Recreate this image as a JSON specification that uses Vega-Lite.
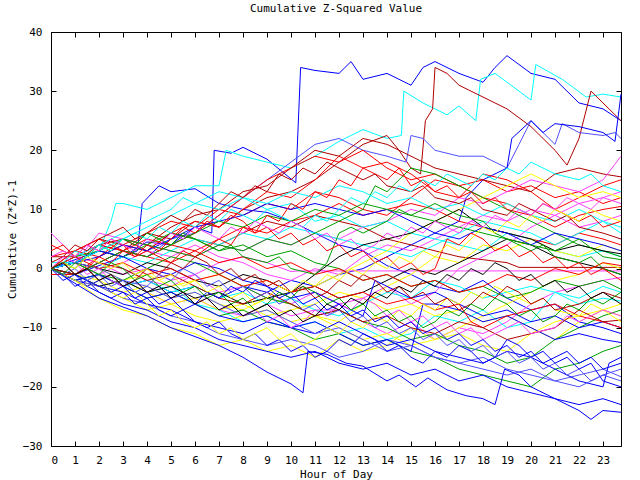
{
"$schema":"https://vega.github.io/schema/vega-lite/v6.json",
"width":570,"height":414,
"autosize":"none",
"padding":{"left":51,"top":32,"right":19,"bottom":34},
"background":"white",
"title":{"text":"Cumulative Z-Squared Value","font":"DejaVu Sans Mono","fontSize":11,"fontWeight":"normal","color":"black","anchor":"middle","frame":"group","offset":12},
"config":{"view":{"stroke":"black","strokeWidth":1},
"axis":{"domain":false,"grid":false,"tickColor":"black","tickSize":-5,"tickWidth":1,"labelFont":"DejaVu Sans Mono","labelFontSize":11,"labelColor":"black","titleFont":"DejaVu Sans Mono","titleFontSize":11,"titleFontWeight":"normal","titleColor":"black","labelPadding":8}},
"resolve":{"axis":{"x":"independent","y":"independent"}},
"layer":[
{"data":{"values":[
{"s":1,"h":0,"v":0},{"s":1,"h":1,"v":1.5},{"s":1,"h":2,"v":3},{"s":1,"h":3,"v":2},{"s":1,"h":4,"v":4.5},{"s":1,"h":5,"v":4},{"s":1,"h":6,"v":7},{"s":1,"h":6.7,"v":6},{"s":1,"h":6.8,"v":20},{"s":1,"h":7.5,"v":19.5},{"s":1,"h":8,"v":20.5},{"s":1,"h":9,"v":18.5},{"s":1,"h":10.2,"v":14.5},{"s":1,"h":10.4,"v":34},{"s":1,"h":11,"v":33.5},{"s":1,"h":12,"v":33},{"s":1,"h":12.5,"v":35},{"s":1,"h":13,"v":32},{"s":1,"h":14,"v":33},{"s":1,"h":15,"v":31},{"s":1,"h":15.5,"v":34},{"s":1,"h":16,"v":35},{"s":1,"h":17,"v":33},{"s":1,"h":18,"v":31.5},{"s":1,"h":18.5,"v":34},{"s":1,"h":19,"v":36},{"s":1,"h":20,"v":33},{"s":1,"h":21,"v":32},{"s":1,"h":22,"v":28},{"s":1,"h":23,"v":27},{"s":1,"h":23.75,"v":25},
{"s":2,"h":0,"v":0},{"s":2,"h":1,"v":-1},{"s":2,"h":2,"v":0.5},{"s":2,"h":3,"v":2},{"s":2,"h":3.6,"v":3},{"s":2,"h":3.8,"v":11},{"s":2,"h":4.5,"v":14},{"s":2,"h":5,"v":13},{"s":2,"h":6,"v":13.5},{"s":2,"h":7,"v":11},{"s":2,"h":8,"v":10},{"s":2,"h":9,"v":9.5},{"s":2,"h":10,"v":8},{"s":2,"h":11,"v":6},{"s":2,"h":12,"v":4},{"s":2,"h":13,"v":3},{"s":2,"h":14,"v":0.5},{"s":2,"h":15,"v":-1},{"s":2,"h":16,"v":-3},{"s":2,"h":17,"v":-4},{"s":2,"h":18,"v":-2},{"s":2,"h":19,"v":-5},{"s":2,"h":20,"v":-7},{"s":2,"h":21,"v":-6},{"s":2,"h":22,"v":-9},{"s":2,"h":23,"v":-10},{"s":2,"h":23.75,"v":-11},
{"s":3,"h":0,"v":1},{"s":3,"h":1,"v":1},{"s":3,"h":2,"v":3},{"s":3,"h":2.5,"v":8},{"s":3,"h":2.7,"v":11},{"s":3,"h":3,"v":11},{"s":3,"h":4,"v":10},{"s":3,"h":5,"v":12},{"s":3,"h":6,"v":14},{"s":3,"h":7,"v":14},{"s":3,"h":7.3,"v":20},{"s":3,"h":8,"v":19},{"s":3,"h":9,"v":18},{"s":3,"h":10,"v":17},{"s":3,"h":11,"v":19},{"s":3,"h":12,"v":21.5},{"s":3,"h":13,"v":23.5},{"s":3,"h":14,"v":22},{"s":3,"h":14.6,"v":22.5},{"s":3,"h":14.7,"v":30},{"s":3,"h":15.5,"v":28},{"s":3,"h":16.5,"v":26},{"s":3,"h":17,"v":27.5},{"s":3,"h":17.7,"v":25},{"s":3,"h":17.9,"v":32},{"s":3,"h":18.5,"v":33},{"s":3,"h":19.5,"v":30},{"s":3,"h":20,"v":28.5},{"s":3,"h":20.2,"v":34.5},{"s":3,"h":21.3,"v":32},{"s":3,"h":22.3,"v":29},{"s":3,"h":23,"v":29.5},{"s":3,"h":23.75,"v":29},
{"s":4,"h":0,"v":2},{"s":4,"h":1,"v":2},{"s":4,"h":2,"v":4},{"s":4,"h":3,"v":3},{"s":4,"h":4,"v":6},{"s":4,"h":5,"v":5},{"s":4,"h":6,"v":8},{"s":4,"h":7,"v":7},{"s":4,"h":8,"v":10},{"s":4,"h":9,"v":12},{"s":4,"h":10,"v":13},{"s":4,"h":11,"v":15},{"s":4,"h":12,"v":18},{"s":4,"h":13,"v":21},{"s":4,"h":14,"v":22.5},{"s":4,"h":14.5,"v":20},{"s":4,"h":15,"v":17},{"s":4,"h":15.4,"v":16},{"s":4,"h":15.6,"v":25},{"s":4,"h":15.9,"v":27},{"s":4,"h":16,"v":34},{"s":4,"h":16.5,"v":33},{"s":4,"h":17,"v":31},{"s":4,"h":18,"v":29},{"s":4,"h":19,"v":27},{"s":4,"h":20,"v":24},{"s":4,"h":21,"v":20},{"s":4,"h":21.5,"v":17.5},{"s":4,"h":22,"v":22},{"s":4,"h":22.5,"v":30},{"s":4,"h":23,"v":28},{"s":4,"h":23.75,"v":25},
{"s":5,"h":0,"v":0},{"s":5,"h":1,"v":-1},{"s":5,"h":2,"v":1},{"s":5,"h":3,"v":3},{"s":5,"h":4,"v":2},{"s":5,"h":5,"v":5},{"s":5,"h":6,"v":6},{"s":5,"h":7,"v":9},{"s":5,"h":8,"v":12},{"s":5,"h":9,"v":15},{"s":5,"h":10,"v":18},{"s":5,"h":11,"v":21},{"s":5,"h":12,"v":22},{"s":5,"h":13,"v":20},{"s":5,"h":14,"v":19},{"s":5,"h":14.8,"v":18},{"s":5,"h":15,"v":22.5},{"s":5,"h":15.5,"v":22},{"s":5,"h":16,"v":20},{"s":5,"h":17,"v":19},{"s":5,"h":18,"v":19},{"s":5,"h":19,"v":17},{"s":5,"h":19.5,"v":21},{"s":5,"h":20,"v":25},{"s":5,"h":20.5,"v":23},{"s":5,"h":21,"v":21},{"s":5,"h":21.3,"v":24.5},{"s":5,"h":22,"v":23},{"s":5,"h":23,"v":22.5},{"s":5,"h":23.5,"v":23},{"s":5,"h":23.75,"v":22},
{"s":6,"h":0,"v":0},{"s":6,"h":1,"v":-2},{"s":6,"h":2,"v":-1},{"s":6,"h":3,"v":-3},{"s":6,"h":4,"v":-2},{"s":6,"h":5,"v":-4},{"s":6,"h":6,"v":-3},{"s":6,"h":7,"v":-5},{"s":6,"h":8,"v":-3},{"s":6,"h":9,"v":-4},{"s":6,"h":10,"v":-2},{"s":6,"h":11,"v":-3},{"s":6,"h":12,"v":-1},{"s":6,"h":13,"v":0},{"s":6,"h":14,"v":2},{"s":6,"h":15,"v":4},{"s":6,"h":16,"v":6},{"s":6,"h":17,"v":8},{"s":6,"h":17.3,"v":12},{"s":6,"h":18,"v":15},{"s":6,"h":19,"v":17},{"s":6,"h":19.2,"v":22},{"s":6,"h":20,"v":25},{"s":6,"h":20.5,"v":23},{"s":6,"h":21,"v":24.5},{"s":6,"h":22,"v":24},{"s":6,"h":23,"v":23},{"s":6,"h":23.5,"v":21.5},{"s":6,"h":23.75,"v":29.5},
{"s":7,"h":0,"v":4},{"s":7,"h":1,"v":2},{"s":7,"h":2,"v":4},{"s":7,"h":3,"v":3},{"s":7,"h":4,"v":5},{"s":7,"h":5,"v":4},{"s":7,"h":6,"v":6},{"s":7,"h":7,"v":9},{"s":7,"h":8,"v":12},{"s":7,"h":9,"v":15},{"s":7,"h":10,"v":17},{"s":7,"h":11,"v":19},{"s":7,"h":12,"v":18},{"s":7,"h":13,"v":20},{"s":7,"h":14,"v":17},{"s":7,"h":15,"v":15},{"s":7,"h":16,"v":16},{"s":7,"h":17,"v":14},{"s":7,"h":18,"v":15},{"s":7,"h":19,"v":13},{"s":7,"h":20,"v":14},{"s":7,"h":21,"v":12},{"s":7,"h":22,"v":13},{"s":7,"h":23,"v":11},{"s":7,"h":23.75,"v":12},
{"s":8,"h":0,"v":2},{"s":8,"h":1,"v":3},{"s":8,"h":2,"v":2},{"s":8,"h":3,"v":5},{"s":8,"h":4,"v":3},{"s":8,"h":5,"v":6},{"s":8,"h":6,"v":8},{"s":8,"h":7,"v":7},{"s":8,"h":8,"v":10},{"s":8,"h":9,"v":13},{"s":8,"h":10,"v":12},{"s":8,"h":11,"v":15},{"s":8,"h":12,"v":19},{"s":8,"h":13,"v":17},{"s":8,"h":14,"v":18},{"s":8,"h":15,"v":16},{"s":8,"h":16,"v":13},{"s":8,"h":17,"v":12},{"s":8,"h":18,"v":16},{"s":8,"h":19,"v":15},{"s":8,"h":20,"v":13},{"s":8,"h":21,"v":10},{"s":8,"h":22,"v":12},{"s":8,"h":23,"v":14},{"s":8,"h":23.75,"v":15},
{"s":9,"h":0,"v":0},{"s":9,"h":1,"v":1},{"s":9,"h":2,"v":4},{"s":9,"h":3,"v":5},{"s":9,"h":4,"v":4},{"s":9,"h":5,"v":7},{"s":9,"h":6,"v":9},{"s":9,"h":7,"v":10},{"s":9,"h":8,"v":13},{"s":9,"h":9,"v":14},{"s":9,"h":10,"v":17},{"s":9,"h":11,"v":20},{"s":9,"h":12,"v":19},{"s":9,"h":13,"v":22},{"s":9,"h":14,"v":21},{"s":9,"h":15,"v":19},{"s":9,"h":16,"v":17},{"s":9,"h":17,"v":16},{"s":9,"h":18,"v":15},{"s":9,"h":19,"v":14},{"s":9,"h":20,"v":13},{"s":9,"h":21,"v":16},{"s":9,"h":22,"v":17},{"s":9,"h":23,"v":16},{"s":9,"h":23.75,"v":15.5},
{"s":10,"h":0,"v":-1},{"s":10,"h":1,"v":-1},{"s":10,"h":2,"v":2},{"s":10,"h":3,"v":4},{"s":10,"h":4,"v":6},{"s":10,"h":5,"v":8},{"s":10,"h":6,"v":7},{"s":10,"h":7,"v":10},{"s":10,"h":8,"v":9},{"s":10,"h":9,"v":11},{"s":10,"h":10,"v":10},{"s":10,"h":11,"v":13},{"s":10,"h":12,"v":12},{"s":10,"h":13,"v":10},{"s":10,"h":14,"v":9},{"s":10,"h":15,"v":12},{"s":10,"h":16,"v":15},{"s":10,"h":17,"v":14},{"s":10,"h":18,"v":12},{"s":10,"h":19,"v":11},{"s":10,"h":20,"v":9},{"s":10,"h":21,"v":7},{"s":10,"h":22,"v":9},{"s":10,"h":23,"v":10},{"s":10,"h":23.75,"v":10.5},
{"s":11,"h":0,"v":0},{"s":11,"h":1,"v":2},{"s":11,"h":2,"v":1},{"s":11,"h":3,"v":3},{"s":11,"h":4,"v":2},{"s":11,"h":5,"v":1},{"s":11,"h":6,"v":3},{"s":11,"h":7,"v":5},{"s":11,"h":8,"v":7},{"s":11,"h":9,"v":6},{"s":11,"h":10,"v":8},{"s":11,"h":11,"v":9},{"s":11,"h":12,"v":11},{"s":11,"h":13,"v":9},{"s":11,"h":14,"v":10},{"s":11,"h":15,"v":11},{"s":11,"h":16,"v":10},{"s":11,"h":17,"v":8},{"s":11,"h":18,"v":7},{"s":11,"h":19,"v":6},{"s":11,"h":20,"v":5},{"s":11,"h":21,"v":4},{"s":11,"h":22,"v":6},{"s":11,"h":23,"v":5},{"s":11,"h":23.75,"v":4},
{"s":12,"h":0,"v":0},{"s":12,"h":1,"v":3},{"s":12,"h":2,"v":5},{"s":12,"h":3,"v":4},{"s":12,"h":4,"v":3},{"s":12,"h":5,"v":6},{"s":12,"h":6,"v":5},{"s":12,"h":7,"v":4},{"s":12,"h":8,"v":6},{"s":12,"h":9,"v":8},{"s":12,"h":10,"v":7},{"s":12,"h":11,"v":9},{"s":12,"h":12,"v":8},{"s":12,"h":13,"v":7},{"s":12,"h":14,"v":5},{"s":12,"h":15,"v":4},{"s":12,"h":16,"v":3},{"s":12,"h":17,"v":2},{"s":12,"h":18,"v":1.5},{"s":12,"h":19,"v":1},{"s":12,"h":19.5,"v":0.2},{"s":12,"h":23.75,"v":0.2},
{"s":13,"h":0,"v":6},{"s":13,"h":1,"v":2},{"s":13,"h":2,"v":1},{"s":13,"h":3,"v":-1},{"s":13,"h":4,"v":0},{"s":13,"h":5,"v":-2},{"s":13,"h":6,"v":-1},{"s":13,"h":7,"v":1},{"s":13,"h":8,"v":2},{"s":13,"h":9,"v":1},{"s":13,"h":10,"v":-0.5},{"s":13,"h":10.3,"v":-0.4},{"s":13,"h":23.75,"v":-0.4},
{"s":14,"h":0,"v":0},{"s":14,"h":1,"v":1},{"s":14,"h":2,"v":6},{"s":14,"h":3,"v":5},{"s":14,"h":4,"v":4},{"s":14,"h":5,"v":3},{"s":14,"h":6,"v":2},{"s":14,"h":7,"v":4},{"s":14,"h":8,"v":3},{"s":14,"h":9,"v":5},{"s":14,"h":10,"v":4},{"s":14,"h":11,"v":6},{"s":14,"h":12,"v":5},{"s":14,"h":13,"v":7},{"s":14,"h":14,"v":8},{"s":14,"h":15,"v":10},{"s":14,"h":16,"v":9},{"s":14,"h":17,"v":12},{"s":14,"h":18,"v":11},{"s":14,"h":19,"v":13},{"s":14,"h":20,"v":15},{"s":14,"h":21,"v":14},{"s":14,"h":22,"v":13},{"s":14,"h":23,"v":15},{"s":14,"h":23.75,"v":19},
{"s":15,"h":0,"v":0},{"s":15,"h":1,"v":-1},{"s":15,"h":2,"v":1},{"s":15,"h":3,"v":0},{"s":15,"h":4,"v":-2},{"s":15,"h":5,"v":-3},{"s":15,"h":6,"v":-1},{"s":15,"h":7,"v":-4},{"s":15,"h":8,"v":-3},{"s":15,"h":9,"v":-5},{"s":15,"h":10,"v":-6},{"s":15,"h":11,"v":-4},{"s":15,"h":12,"v":-6},{"s":15,"h":13,"v":-5},{"s":15,"h":14,"v":-3},{"s":15,"h":15,"v":-6},{"s":15,"h":16,"v":-4},{"s":15,"h":17,"v":0},{"s":15,"h":18,"v":2},{"s":15,"h":19,"v":4},{"s":15,"h":20,"v":7},{"s":15,"h":21,"v":9},{"s":15,"h":22,"v":11},{"s":15,"h":23,"v":12},{"s":15,"h":23.75,"v":13},
{"s":16,"h":0,"v":0},{"s":16,"h":1,"v":-2},{"s":16,"h":2,"v":-3},{"s":16,"h":3,"v":-2},{"s":16,"h":4,"v":-4},{"s":16,"h":5,"v":-6},{"s":16,"h":6,"v":-5},{"s":16,"h":7,"v":-7},{"s":16,"h":8,"v":-8},{"s":16,"h":9,"v":-6},{"s":16,"h":10,"v":-8},{"s":16,"h":11,"v":-7},{"s":16,"h":12,"v":-7},{"s":16,"h":13,"v":-9},{"s":16,"h":14,"v":-11},{"s":16,"h":15,"v":-9},{"s":16,"h":16,"v":-12},{"s":16,"h":17,"v":-10},{"s":16,"h":18,"v":-11},{"s":16,"h":19,"v":-9},{"s":16,"h":20,"v":-6},{"s":16,"h":21,"v":-4},{"s":16,"h":22,"v":-3},{"s":16,"h":23,"v":-2},{"s":16,"h":23.75,"v":-1.5},
{"s":17,"h":0,"v":0},{"s":17,"h":1,"v":1},{"s":17,"h":2,"v":-1},{"s":17,"h":3,"v":1},{"s":17,"h":4,"v":3},{"s":17,"h":5,"v":2},{"s":17,"h":6,"v":4},{"s":17,"h":7,"v":2},{"s":17,"h":8,"v":1},{"s":17,"h":9,"v":-1},{"s":17,"h":10,"v":-2},{"s":17,"h":11,"v":0},{"s":17,"h":12,"v":-1},{"s":17,"h":13,"v":2},{"s":17,"h":14,"v":4},{"s":17,"h":15,"v":3},{"s":17,"h":16,"v":5},{"s":17,"h":17,"v":7},{"s":17,"h":18,"v":9},{"s":17,"h":19,"v":8},{"s":17,"h":20,"v":10},{"s":17,"h":21,"v":9},{"s":17,"h":22,"v":7},{"s":17,"h":23,"v":8},{"s":17,"h":23.75,"v":9},
{"s":18,"h":0,"v":0},{"s":18,"h":1,"v":-2},{"s":18,"h":2,"v":-1},{"s":18,"h":3,"v":-3},{"s":18,"h":4,"v":-2},{"s":18,"h":5,"v":-4},{"s":18,"h":6,"v":-3},{"s":18,"h":7,"v":-5},{"s":18,"h":8,"v":-4},{"s":18,"h":9,"v":-6},{"s":18,"h":10,"v":-5},{"s":18,"h":11,"v":-7},{"s":18,"h":12,"v":-8},{"s":18,"h":13,"v":-6},{"s":18,"h":14,"v":-4},{"s":18,"h":15,"v":-5},{"s":18,"h":16,"v":-2},{"s":18,"h":17,"v":-3},{"s":18,"h":18,"v":-5},{"s":18,"h":19,"v":-4},{"s":18,"h":20,"v":-3},{"s":18,"h":21,"v":-4},{"s":18,"h":22,"v":-6},{"s":18,"h":23,"v":-5},{"s":18,"h":23.75,"v":-5.5},
{"s":19,"h":0,"v":0},{"s":19,"h":1,"v":2},{"s":19,"h":2,"v":4},{"s":19,"h":3,"v":6},{"s":19,"h":4,"v":8},{"s":19,"h":5,"v":10},{"s":19,"h":5.5,"v":12},{"s":19,"h":6,"v":11},{"s":19,"h":7,"v":13},{"s":19,"h":8,"v":12},{"s":19,"h":9,"v":10},{"s":19,"h":10,"v":11},{"s":19,"h":11,"v":8},{"s":19,"h":12,"v":9},{"s":19,"h":13,"v":7},{"s":19,"h":14,"v":8},{"s":19,"h":15,"v":6},{"s":19,"h":16,"v":5},{"s":19,"h":17,"v":4},{"s":19,"h":18,"v":3},{"s":19,"h":19,"v":6},{"s":19,"h":20,"v":5},{"s":19,"h":21,"v":3},{"s":19,"h":22,"v":2},{"s":19,"h":23,"v":3},{"s":19,"h":23.75,"v":2},
{"s":20,"h":0,"v":0},{"s":20,"h":1,"v":-1},{"s":20,"h":2,"v":-3},{"s":20,"h":3,"v":-2},{"s":20,"h":4,"v":-4},{"s":20,"h":5,"v":-3},{"s":20,"h":6,"v":-6},{"s":20,"h":7,"v":-7},{"s":20,"h":8,"v":-9},{"s":20,"h":9,"v":-8},{"s":20,"h":10,"v":-10},{"s":20,"h":11,"v":-9},{"s":20,"h":12,"v":-11},{"s":20,"h":13,"v":-10},{"s":20,"h":14,"v":-12},{"s":20,"h":15,"v":-11},{"s":20,"h":16,"v":-8},{"s":20,"h":17,"v":-9},{"s":20,"h":18,"v":-7},{"s":20,"h":19,"v":-10},{"s":20,"h":20,"v":-9},{"s":20,"h":21,"v":-4},{"s":20,"h":22,"v":-5},{"s":20,"h":23,"v":-3},{"s":20,"h":23.75,"v":-4},
{"s":21,"h":0,"v":0},{"s":21,"h":1,"v":1},{"s":21,"h":2,"v":0},{"s":21,"h":3,"v":2},{"s":21,"h":4,"v":1},{"s":21,"h":5,"v":3},{"s":21,"h":6,"v":5},{"s":21,"h":7,"v":4},{"s":21,"h":8,"v":6},{"s":21,"h":9,"v":5},{"s":21,"h":10,"v":7},{"s":21,"h":11,"v":6},{"s":21,"h":12,"v":5},{"s":21,"h":13,"v":4},{"s":21,"h":14,"v":3},{"s":21,"h":15,"v":2},{"s":21,"h":16,"v":4},{"s":21,"h":17,"v":6},{"s":21,"h":18,"v":8},{"s":21,"h":19,"v":7},{"s":21,"h":20,"v":6},{"s":21,"h":21,"v":4},{"s":21,"h":22,"v":6},{"s":21,"h":23,"v":8},{"s":21,"h":23.75,"v":7},
{"s":22,"h":0,"v":0},{"s":22,"h":1,"v":-2},{"s":22,"h":2,"v":-5},{"s":22,"h":3,"v":-7},{"s":22,"h":4,"v":-8},{"s":22,"h":5,"v":-10},{"s":22,"h":6,"v":-11},{"s":22,"h":7,"v":-13},{"s":22,"h":8,"v":-12},{"s":22,"h":9,"v":-14},{"s":22,"h":10,"v":-13},{"s":22,"h":11,"v":-15},{"s":22,"h":12,"v":-12},{"s":22,"h":13,"v":-14},{"s":22,"h":14,"v":-13},{"s":22,"h":15,"v":-10},{"s":22,"h":16,"v":-12},{"s":22,"h":17,"v":-11},{"s":22,"h":18,"v":-13},{"s":22,"h":19,"v":-14},{"s":22,"h":20,"v":-11},{"s":22,"h":21,"v":-9},{"s":22,"h":22,"v":-8},{"s":22,"h":23,"v":-7},{"s":22,"h":23.75,"v":-6},
{"s":23,"h":0,"v":0},{"s":23,"h":1,"v":-1},{"s":23,"h":2,"v":-2},{"s":23,"h":3,"v":-4},{"s":23,"h":4,"v":-3},{"s":23,"h":5,"v":-5},{"s":23,"h":6,"v":-4},{"s":23,"h":7,"v":-6},{"s":23,"h":8,"v":-7},{"s":23,"h":9,"v":-5},{"s":23,"h":10,"v":-6},{"s":23,"h":11,"v":-8},{"s":23,"h":12,"v":-9},{"s":23,"h":13,"v":-6},{"s":23,"h":14,"v":-3},{"s":23,"h":15,"v":-1},{"s":23,"h":16,"v":2},{"s":23,"h":17,"v":1},{"s":23,"h":18,"v":4},{"s":23,"h":19,"v":3},{"s":23,"h":20,"v":5},{"s":23,"h":21,"v":3},{"s":23,"h":22,"v":2},{"s":23,"h":23,"v":4},{"s":23,"h":23.75,"v":3},
{"s":24,"h":0,"v":0},{"s":24,"h":1,"v":1},{"s":24,"h":2,"v":0},{"s":24,"h":3,"v":-2},{"s":24,"h":4,"v":-1},{"s":24,"h":5,"v":-3},{"s":24,"h":6,"v":-2},{"s":24,"h":7,"v":-1},{"s":24,"h":8,"v":-3},{"s":24,"h":9,"v":-2},{"s":24,"h":10,"v":-4},{"s":24,"h":11,"v":-3},{"s":24,"h":12,"v":-1},{"s":24,"h":13,"v":1},{"s":24,"h":14,"v":3},{"s":24,"h":15,"v":6},{"s":24,"h":16,"v":8},{"s":24,"h":17,"v":10},{"s":24,"h":18,"v":12},{"s":24,"h":19,"v":14},{"s":24,"h":20,"v":16},{"s":24,"h":21,"v":14},{"s":24,"h":22,"v":12},{"s":24,"h":23,"v":13},{"s":24,"h":23.75,"v":12},
{"s":25,"h":0,"v":0},{"s":25,"h":1,"v":-2},{"s":25,"h":2,"v":-3},{"s":25,"h":3,"v":-5},{"s":25,"h":4,"v":-7},{"s":25,"h":5,"v":-6},{"s":25,"h":6,"v":-8},{"s":25,"h":7,"v":-9},{"s":25,"h":8,"v":-8},{"s":25,"h":9,"v":-7},{"s":25,"h":10,"v":-9},{"s":25,"h":11,"v":-8},{"s":25,"h":12,"v":-10},{"s":25,"h":13,"v":-12},{"s":25,"h":14,"v":-11},{"s":25,"h":15,"v":-13},{"s":25,"h":16,"v":-12},{"s":25,"h":17,"v":-10},{"s":25,"h":18,"v":-8},{"s":25,"h":19,"v":-6},{"s":25,"h":20,"v":-4},{"s":25,"h":21,"v":-2},{"s":25,"h":22,"v":-1},{"s":25,"h":23,"v":1},{"s":25,"h":23.75,"v":0},
{"s":26,"h":0,"v":0},{"s":26,"h":1,"v":-1},{"s":26,"h":2,"v":-3},{"s":26,"h":3,"v":-2},{"s":26,"h":4,"v":-4},{"s":26,"h":5,"v":-6},{"s":26,"h":6,"v":-5},{"s":26,"h":7,"v":-7},{"s":26,"h":8,"v":-6},{"s":26,"h":9,"v":-8},{"s":26,"h":10,"v":-7},{"s":26,"h":11,"v":-6},{"s":26,"h":12,"v":-4},{"s":26,"h":13,"v":-5},{"s":26,"h":14,"v":-7},{"s":26,"h":15,"v":-6},{"s":26,"h":16,"v":-8},{"s":26,"h":17,"v":-7},{"s":26,"h":18,"v":-9},{"s":26,"h":19,"v":-8},{"s":26,"h":20,"v":-10},{"s":26,"h":21,"v":-12},{"s":26,"h":22,"v":-9},{"s":26,"h":23,"v":-7},{"s":26,"h":23.75,"v":-8},
{"s":27,"h":0,"v":0},{"s":27,"h":1,"v":1},{"s":27,"h":2,"v":3},{"s":27,"h":3,"v":2},{"s":27,"h":4,"v":4},{"s":27,"h":5,"v":3},{"s":27,"h":6,"v":2},{"s":27,"h":7,"v":4},{"s":27,"h":8,"v":3},{"s":27,"h":9,"v":5},{"s":27,"h":10,"v":4},{"s":27,"h":11,"v":6},{"s":27,"h":12,"v":8},{"s":27,"h":13,"v":10},{"s":27,"h":13.5,"v":14},{"s":27,"h":14,"v":13},{"s":27,"h":15,"v":17},{"s":27,"h":16,"v":16},{"s":27,"h":17,"v":14},{"s":27,"h":18,"v":12},{"s":27,"h":19,"v":10},{"s":27,"h":20,"v":8},{"s":27,"h":21,"v":6},{"s":27,"h":22,"v":4},{"s":27,"h":23,"v":3},{"s":27,"h":23.75,"v":2},
{"s":28,"h":0,"v":0},{"s":28,"h":1,"v":-2},{"s":28,"h":2,"v":-1},{"s":28,"h":3,"v":-3},{"s":28,"h":4,"v":-5},{"s":28,"h":5,"v":-4},{"s":28,"h":6,"v":-6},{"s":28,"h":7,"v":-8},{"s":28,"h":8,"v":-7},{"s":28,"h":9,"v":-9},{"s":28,"h":10,"v":-10},{"s":28,"h":11,"v":-12},{"s":28,"h":12,"v":-11},{"s":28,"h":13,"v":-13},{"s":28,"h":14,"v":-12},{"s":28,"h":15,"v":-14},{"s":28,"h":16,"v":-15},{"s":28,"h":17,"v":-17},{"s":28,"h":18,"v":-18},{"s":28,"h":19,"v":-19},{"s":28,"h":20,"v":-20},{"s":28,"h":21,"v":-17},{"s":28,"h":22,"v":-16},{"s":28,"h":23,"v":-14},{"s":28,"h":23.75,"v":-13},
{"s":29,"h":0,"v":0},{"s":29,"h":1,"v":2},{"s":29,"h":2,"v":3},{"s":29,"h":3,"v":5},{"s":29,"h":4,"v":4},{"s":29,"h":5,"v":6},{"s":29,"h":6,"v":5},{"s":29,"h":7,"v":3},{"s":29,"h":8,"v":4},{"s":29,"h":9,"v":2},{"s":29,"h":10,"v":3},{"s":29,"h":11,"v":1},{"s":29,"h":12,"v":0},{"s":29,"h":13,"v":-2},{"s":29,"h":14,"v":-1},{"s":29,"h":15,"v":-3},{"s":29,"h":16,"v":-2},{"s":29,"h":17,"v":-4},{"s":29,"h":18,"v":-3},{"s":29,"h":19,"v":-5},{"s":29,"h":20,"v":-4},{"s":29,"h":21,"v":-2},{"s":29,"h":22,"v":-3},{"s":29,"h":23,"v":-2},{"s":29,"h":23.75,"v":-3.5},
{"s":30,"h":0,"v":0},{"s":30,"h":1,"v":1},{"s":30,"h":2,"v":-1},{"s":30,"h":3,"v":-2},{"s":30,"h":4,"v":0},{"s":30,"h":5,"v":2},{"s":30,"h":6,"v":1},{"s":30,"h":7,"v":-1},{"s":30,"h":8,"v":-3},{"s":30,"h":9,"v":-5},{"s":30,"h":10,"v":-6},{"s":30,"h":11,"v":-8},{"s":30,"h":12,"v":-7},{"s":30,"h":13,"v":-9},{"s":30,"h":14,"v":-10},{"s":30,"h":15,"v":-12},{"s":30,"h":16,"v":-11},{"s":30,"h":17,"v":-13},{"s":30,"h":18,"v":-14},{"s":30,"h":19,"v":-16},{"s":30,"h":20,"v":-15},{"s":30,"h":21,"v":-12},{"s":30,"h":22,"v":-10},{"s":30,"h":23,"v":-8},{"s":30,"h":23.75,"v":-7},
{"s":31,"h":0,"v":0},{"s":31,"h":1,"v":-1},{"s":31,"h":2,"v":-3},{"s":31,"h":3,"v":-2},{"s":31,"h":4,"v":-4},{"s":31,"h":5,"v":-3},{"s":31,"h":6,"v":-5},{"s":31,"h":7,"v":-4},{"s":31,"h":8,"v":-6},{"s":31,"h":9,"v":-5},{"s":31,"h":10,"v":-4},{"s":31,"h":11,"v":-1},{"s":31,"h":12,"v":2},{"s":31,"h":13,"v":4},{"s":31,"h":14,"v":5},{"s":31,"h":15,"v":6},{"s":31,"h":16,"v":8},{"s":31,"h":17,"v":10},{"s":31,"h":18,"v":7},{"s":31,"h":19,"v":6},{"s":31,"h":20,"v":5},{"s":31,"h":21,"v":3},{"s":31,"h":22,"v":4},{"s":31,"h":23,"v":3},{"s":31,"h":23.75,"v":2.5},
{"s":32,"h":0,"v":0},{"s":32,"h":1,"v":1},{"s":32,"h":2,"v":0},{"s":32,"h":3,"v":-1},{"s":32,"h":4,"v":1},{"s":32,"h":5,"v":0},{"s":32,"h":6,"v":-2},{"s":32,"h":7,"v":-3},{"s":32,"h":8,"v":-1},{"s":32,"h":9,"v":-2},{"s":32,"h":10,"v":-4},{"s":32,"h":11,"v":-3},{"s":32,"h":12,"v":-5},{"s":32,"h":13,"v":-4},{"s":32,"h":14,"v":-2},{"s":32,"h":15,"v":0},{"s":32,"h":16,"v":-1},{"s":32,"h":17,"v":1},{"s":32,"h":18,"v":3},{"s":32,"h":19,"v":5},{"s":32,"h":20,"v":4},{"s":32,"h":21,"v":2},{"s":32,"h":22,"v":1},{"s":32,"h":23,"v":0},{"s":32,"h":23.75,"v":-1},
{"s":33,"h":0,"v":0},{"s":33,"h":1,"v":-2.5},{"s":33,"h":2,"v":-5},{"s":33,"h":3,"v":-6.5},{"s":33,"h":4,"v":-8},{"s":33,"h":5,"v":-10},{"s":33,"h":6,"v":-11.5},{"s":33,"h":7,"v":-13},{"s":33,"h":8,"v":-15},{"s":33,"h":9,"v":-17.5},{"s":33,"h":10,"v":-19.5},{"s":33,"h":10.5,"v":-21},{"s":33,"h":10.7,"v":-14},{"s":33,"h":11.5,"v":-14.5},{"s":33,"h":12.3,"v":-16},{"s":33,"h":13,"v":-16.5},{"s":33,"h":14,"v":-19},{"s":33,"h":14.5,"v":-18},{"s":33,"h":15.2,"v":-20},{"s":33,"h":15.7,"v":-18.5},{"s":33,"h":16.5,"v":-20.5},{"s":33,"h":17.3,"v":-21.5},{"s":33,"h":18,"v":-22},{"s":33,"h":18.5,"v":-23},{"s":33,"h":18.9,"v":-17},{"s":33,"h":19.5,"v":-18},{"s":33,"h":20,"v":-20},{"s":33,"h":21,"v":-22},{"s":33,"h":22,"v":-24},{"s":33,"h":22.5,"v":-25.5},{"s":33,"h":23,"v":-24},{"s":33,"h":23.75,"v":-24.3},
{"s":34,"h":0,"v":0},{"s":34,"h":1,"v":-2},{"s":34,"h":2,"v":-4},{"s":34,"h":3,"v":-6},{"s":34,"h":4,"v":-7},{"s":34,"h":5,"v":-9},{"s":34,"h":6,"v":-10},{"s":34,"h":7,"v":-12},{"s":34,"h":8,"v":-13},{"s":34,"h":9,"v":-14},{"s":34,"h":10,"v":-15},{"s":34,"h":11,"v":-14},{"s":34,"h":12,"v":-16},{"s":34,"h":13,"v":-17},{"s":34,"h":14,"v":-16},{"s":34,"h":15,"v":-18},{"s":34,"h":16,"v":-17},{"s":34,"h":17,"v":-19},{"s":34,"h":18,"v":-18},{"s":34,"h":19,"v":-20},{"s":34,"h":20,"v":-21},{"s":34,"h":21,"v":-22},{"s":34,"h":22,"v":-23},{"s":34,"h":23,"v":-22},{"s":34,"h":23.75,"v":-23},
{"s":35,"h":0,"v":0},{"s":35,"h":1,"v":-2},{"s":35,"h":2,"v":-3},{"s":35,"h":3,"v":-5},{"s":35,"h":4,"v":-6},{"s":35,"h":5,"v":-8},{"s":35,"h":6,"v":-9},{"s":35,"h":7,"v":-11},{"s":35,"h":8,"v":-12},{"s":35,"h":9,"v":-13},{"s":35,"h":10,"v":-12},{"s":35,"h":11,"v":-13},{"s":35,"h":12,"v":-15},{"s":35,"h":13,"v":-14},{"s":35,"h":14,"v":-12},{"s":35,"h":15,"v":-13},{"s":35,"h":16,"v":-15},{"s":35,"h":17,"v":-16},{"s":35,"h":18,"v":-15},{"s":35,"h":19,"v":-17},{"s":35,"h":20,"v":-18},{"s":35,"h":21,"v":-19},{"s":35,"h":22,"v":-18},{"s":35,"h":23,"v":-17},{"s":35,"h":23.75,"v":-18.3},
{"s":36,"h":0,"v":0},{"s":36,"h":1,"v":-1},{"s":36,"h":2,"v":-3},{"s":36,"h":3,"v":-4},{"s":36,"h":4,"v":-6},{"s":36,"h":5,"v":-7},{"s":36,"h":6,"v":-9},{"s":36,"h":7,"v":-10},{"s":36,"h":8,"v":-11},{"s":36,"h":9,"v":-9},{"s":36,"h":10,"v":-10},{"s":36,"h":11,"v":-11},{"s":36,"h":12,"v":-9},{"s":36,"h":13,"v":-11},{"s":36,"h":14,"v":-13},{"s":36,"h":15,"v":-12},{"s":36,"h":16,"v":-14},{"s":36,"h":17,"v":-15},{"s":36,"h":18,"v":-16},{"s":36,"h":19,"v":-14},{"s":36,"h":20,"v":-15},{"s":36,"h":21,"v":-17},{"s":36,"h":22,"v":-19},{"s":36,"h":23,"v":-20},{"s":36,"h":23.25,"v":-16},{"s":36,"h":23.75,"v":-15},
{"s":37,"h":0,"v":0},{"s":37,"h":1,"v":-2},{"s":37,"h":2,"v":-1},{"s":37,"h":3,"v":-3},{"s":37,"h":4,"v":-5},{"s":37,"h":5,"v":-4},{"s":37,"h":6,"v":-6},{"s":37,"h":7,"v":-8},{"s":37,"h":8,"v":-9},{"s":37,"h":9,"v":-8},{"s":37,"h":10,"v":-10},{"s":37,"h":11,"v":-9},{"s":37,"h":12,"v":-11},{"s":37,"h":13,"v":-13},{"s":37,"h":14,"v":-12},{"s":37,"h":15,"v":-14},{"s":37,"h":15.5,"v":-6},{"s":37,"h":16,"v":-6},{"s":37,"h":17,"v":-7},{"s":37,"h":18,"v":-9},{"s":37,"h":19,"v":-8},{"s":37,"h":20,"v":-10},{"s":37,"h":21,"v":-12},{"s":37,"h":22,"v":-11},{"s":37,"h":23,"v":-12},{"s":37,"h":23.75,"v":-12.5},
{"s":38,"h":0,"v":0},{"s":38,"h":1,"v":1},{"s":38,"h":2,"v":0},{"s":38,"h":3,"v":-2},{"s":38,"h":4,"v":-3},{"s":38,"h":5,"v":-5},{"s":38,"h":6,"v":-4},{"s":38,"h":7,"v":-6},{"s":38,"h":8,"v":-8},{"s":38,"h":9,"v":-7},{"s":38,"h":10,"v":-9},{"s":38,"h":11,"v":-11},{"s":38,"h":12,"v":-10},{"s":38,"h":13,"v":-12},{"s":38,"h":14,"v":-14},{"s":38,"h":15,"v":-13},{"s":38,"h":16,"v":-15},{"s":38,"h":17,"v":-16},{"s":38,"h":18,"v":-17},{"s":38,"h":19,"v":-18},{"s":38,"h":20,"v":-17},{"s":38,"h":21,"v":-19},{"s":38,"h":22,"v":-20},{"s":38,"h":23,"v":-18},{"s":38,"h":23.75,"v":-17},
{"s":39,"h":0,"v":0},{"s":39,"h":1,"v":1},{"s":39,"h":2,"v":3},{"s":39,"h":3,"v":2},{"s":39,"h":4,"v":0},{"s":39,"h":5,"v":-1},{"s":39,"h":6,"v":1},{"s":39,"h":7,"v":0},{"s":39,"h":8,"v":-2},{"s":39,"h":9,"v":-3},{"s":39,"h":10,"v":-5},{"s":39,"h":11,"v":-4},{"s":39,"h":12,"v":-6},{"s":39,"h":13,"v":-8},{"s":39,"h":13.5,"v":-2},{"s":39,"h":14,"v":-3},{"s":39,"h":15,"v":-5},{"s":39,"h":16,"v":-4},{"s":39,"h":17,"v":-6},{"s":39,"h":18,"v":-8},{"s":39,"h":19,"v":-7},{"s":39,"h":20,"v":-9},{"s":39,"h":21,"v":-8},{"s":39,"h":22,"v":-10},{"s":39,"h":23,"v":-9},{"s":39,"h":23.75,"v":-10},
{"s":40,"h":0,"v":0},{"s":40,"h":1,"v":1},{"s":40,"h":2,"v":2},{"s":40,"h":3,"v":4},{"s":40,"h":4,"v":3},{"s":40,"h":5,"v":5},{"s":40,"h":6,"v":7},{"s":40,"h":7,"v":8},{"s":40,"h":8,"v":9},{"s":40,"h":9,"v":11},{"s":40,"h":10,"v":10},{"s":40,"h":11,"v":11},{"s":40,"h":12,"v":10},{"s":40,"h":13,"v":9},{"s":40,"h":14,"v":10},{"s":40,"h":15,"v":8},{"s":40,"h":16,"v":6},{"s":40,"h":17,"v":5},{"s":40,"h":18,"v":7},{"s":40,"h":19,"v":6},{"s":40,"h":20,"v":4},{"s":40,"h":21,"v":6},{"s":40,"h":22,"v":5},{"s":40,"h":23,"v":4},{"s":40,"h":23.75,"v":3},
{"s":41,"h":0,"v":0},{"s":41,"h":1,"v":2},{"s":41,"h":2,"v":0},{"s":41,"h":3,"v":1},{"s":41,"h":4,"v":-1},{"s":41,"h":5,"v":0},{"s":41,"h":6,"v":-2},{"s":41,"h":7,"v":-1},{"s":41,"h":8,"v":-3},{"s":41,"h":9,"v":-2},{"s":41,"h":10,"v":-4},{"s":41,"h":11,"v":-3},{"s":41,"h":12,"v":-5},{"s":41,"h":13,"v":-4},{"s":41,"h":14,"v":-6},{"s":41,"h":15,"v":-5},{"s":41,"h":16,"v":-7},{"s":41,"h":17,"v":-6},{"s":41,"h":17.5,"v":-9},{"s":41,"h":18,"v":-10},{"s":41,"h":19,"v":-8},{"s":41,"h":20,"v":-7},{"s":41,"h":21,"v":-6},{"s":41,"h":22,"v":-8},{"s":41,"h":23,"v":-9},{"s":41,"h":23.75,"v":-10},
{"s":42,"h":0,"v":0},{"s":42,"h":1,"v":-1},{"s":42,"h":2,"v":1},{"s":42,"h":3,"v":0},{"s":42,"h":4,"v":-2},{"s":42,"h":5,"v":-1},{"s":42,"h":6,"v":-3},{"s":42,"h":7,"v":-5},{"s":42,"h":8,"v":-6},{"s":42,"h":9,"v":-4},{"s":42,"h":10,"v":-6},{"s":42,"h":11,"v":-8},{"s":42,"h":12,"v":-7},{"s":42,"h":13,"v":-9},{"s":42,"h":14,"v":-8},{"s":42,"h":15,"v":-10},{"s":42,"h":16,"v":-11},{"s":42,"h":17,"v":-9},{"s":42,"h":18,"v":-10},{"s":42,"h":19,"v":-12},{"s":42,"h":20,"v":-11},{"s":42,"h":21,"v":-10},{"s":42,"h":22,"v":-7},{"s":42,"h":23,"v":-9},{"s":42,"h":23.75,"v":-8.7},
{"s":43,"h":0,"v":0},{"s":43,"h":1,"v":3},{"s":43,"h":2,"v":5},{"s":43,"h":3,"v":3},{"s":43,"h":4,"v":2},{"s":43,"h":5,"v":4},{"s":43,"h":6,"v":3},{"s":43,"h":7,"v":1},{"s":43,"h":8,"v":2},{"s":43,"h":9,"v":0},{"s":43,"h":10,"v":1},{"s":43,"h":11,"v":-1},{"s":43,"h":12,"v":0},{"s":43,"h":13,"v":-2},{"s":43,"h":14,"v":-1},{"s":43,"h":15,"v":-3},{"s":43,"h":16,"v":-2},{"s":43,"h":17,"v":-4},{"s":43,"h":18,"v":-3},{"s":43,"h":19,"v":-1},{"s":43,"h":20,"v":-2},{"s":43,"h":21,"v":0},{"s":43,"h":22,"v":-1},{"s":43,"h":23,"v":1},{"s":43,"h":23.75,"v":0.5},
{"s":44,"h":0,"v":0},{"s":44,"h":1,"v":-1},{"s":44,"h":2,"v":1},{"s":44,"h":3,"v":3},{"s":44,"h":4,"v":2},{"s":44,"h":5,"v":4},{"s":44,"h":6,"v":6},{"s":44,"h":7,"v":8},{"s":44,"h":8,"v":7},{"s":44,"h":9,"v":9},{"s":44,"h":10,"v":8},{"s":44,"h":11,"v":10},{"s":44,"h":12,"v":9},{"s":44,"h":13,"v":11},{"s":44,"h":14,"v":10},{"s":44,"h":15,"v":9},{"s":44,"h":16,"v":8},{"s":44,"h":17,"v":7},{"s":44,"h":18,"v":6},{"s":44,"h":19,"v":5},{"s":44,"h":20,"v":4},{"s":44,"h":21,"v":3},{"s":44,"h":22,"v":5},{"s":44,"h":23,"v":2},{"s":44,"h":23.75,"v":1.5},
{"s":45,"h":0,"v":0},{"s":45,"h":1,"v":1},{"s":45,"h":2,"v":3},{"s":45,"h":3,"v":5},{"s":45,"h":4,"v":7},{"s":45,"h":5,"v":9},{"s":45,"h":6,"v":11},{"s":45,"h":7,"v":10},{"s":45,"h":8,"v":12},{"s":45,"h":9,"v":11},{"s":45,"h":10,"v":13},{"s":45,"h":11,"v":12},{"s":45,"h":12,"v":14},{"s":45,"h":13,"v":13},{"s":45,"h":14,"v":11},{"s":45,"h":15,"v":12},{"s":45,"h":16,"v":10},{"s":45,"h":17,"v":11},{"s":45,"h":18,"v":9},{"s":45,"h":19,"v":11},{"s":45,"h":20,"v":9},{"s":45,"h":21,"v":8},{"s":45,"h":22,"v":10},{"s":45,"h":23,"v":8},{"s":45,"h":23.75,"v":6},
{"s":46,"h":0,"v":3},{"s":46,"h":0.5,"v":4},{"s":46,"h":1,"v":2},{"s":46,"h":1.5,"v":4},{"s":46,"h":2,"v":3},{"s":46,"h":2.5,"v":5},{"s":46,"h":3,"v":4},{"s":46,"h":3.5,"v":2},{"s":46,"h":4,"v":3},{"s":46,"h":5,"v":1},{"s":46,"h":5.5,"v":3},{"s":46,"h":6,"v":2},{"s":46,"h":7,"v":5},{"s":46,"h":7.5,"v":4},{"s":46,"h":8,"v":7},{"s":46,"h":8.5,"v":6},{"s":46,"h":9,"v":9},{"s":46,"h":9.5,"v":8},{"s":46,"h":10,"v":11},{"s":46,"h":10.5,"v":10},{"s":46,"h":11,"v":13},{"s":46,"h":11.5,"v":12},{"s":46,"h":12,"v":15},{"s":46,"h":12.5,"v":14},{"s":46,"h":13,"v":17},{"s":46,"h":13.5,"v":16},{"s":46,"h":14,"v":15},{"s":46,"h":14.5,"v":17},{"s":46,"h":15,"v":14},{"s":46,"h":15.5,"v":15},{"s":46,"h":16,"v":13},{"s":46,"h":16.5,"v":14},{"s":46,"h":17,"v":12},{"s":46,"h":17.5,"v":13},{"s":46,"h":18,"v":11},{"s":46,"h":18.5,"v":12},{"s":46,"h":19,"v":10},{"s":46,"h":20,"v":9},{"s":46,"h":20.5,"v":11},{"s":46,"h":21,"v":10},{"s":46,"h":22,"v":8},{"s":46,"h":22.5,"v":9},{"s":46,"h":23,"v":7},{"s":46,"h":23.75,"v":8},
{"s":47,"h":0,"v":1},{"s":47,"h":0.5,"v":2},{"s":47,"h":1,"v":4},{"s":47,"h":1.5,"v":3},{"s":47,"h":2,"v":5},{"s":47,"h":3,"v":7},{"s":47,"h":3.5,"v":5},{"s":47,"h":4,"v":6},{"s":47,"h":5,"v":9},{"s":47,"h":5.5,"v":8},{"s":47,"h":6,"v":10},{"s":47,"h":6.5,"v":9},{"s":47,"h":7,"v":11},{"s":47,"h":7.5,"v":13},{"s":47,"h":8,"v":12},{"s":47,"h":8.5,"v":14},{"s":47,"h":9,"v":13},{"s":47,"h":9.5,"v":16},{"s":47,"h":10,"v":15},{"s":47,"h":10.5,"v":17},{"s":47,"h":11,"v":16},{"s":47,"h":11.5,"v":18},{"s":47,"h":12,"v":17},{"s":47,"h":13,"v":15},{"s":47,"h":13.5,"v":16},{"s":47,"h":14,"v":14},{"s":47,"h":15,"v":13},{"s":47,"h":15.5,"v":14},{"s":47,"h":16,"v":12},{"s":47,"h":17,"v":11},{"s":47,"h":17.5,"v":12},{"s":47,"h":18,"v":10},{"s":47,"h":19,"v":9},{"s":47,"h":19.5,"v":11},{"s":47,"h":20,"v":10},{"s":47,"h":21,"v":8},{"s":47,"h":21.5,"v":9},{"s":47,"h":22,"v":7},{"s":47,"h":23,"v":6},{"s":47,"h":23.75,"v":5},
{"s":48,"h":0,"v":0},{"s":48,"h":0.5,"v":1},{"s":48,"h":1,"v":0},{"s":48,"h":1.5,"v":2},{"s":48,"h":2,"v":4},{"s":48,"h":2.5,"v":3},{"s":48,"h":3,"v":5},{"s":48,"h":3.5,"v":4},{"s":48,"h":4,"v":6},{"s":48,"h":4.5,"v":5},{"s":48,"h":5,"v":4},{"s":48,"h":5.5,"v":6},{"s":48,"h":6,"v":5},{"s":48,"h":7,"v":3},{"s":48,"h":7.5,"v":4},{"s":48,"h":8,"v":2},{"s":48,"h":9,"v":1},{"s":48,"h":9.5,"v":2},{"s":48,"h":10,"v":0},{"s":48,"h":11,"v":-1},{"s":48,"h":11.5,"v":1},{"s":48,"h":12,"v":6},{"s":48,"h":12.5,"v":7},{"s":48,"h":13,"v":6},{"s":48,"h":14,"v":8},{"s":48,"h":14.5,"v":10},{"s":48,"h":15,"v":9},{"s":48,"h":16,"v":11},{"s":48,"h":16.5,"v":10},{"s":48,"h":17,"v":9},{"s":48,"h":18,"v":8},{"s":48,"h":18.5,"v":6},{"s":48,"h":19,"v":5},{"s":48,"h":20,"v":3},{"s":48,"h":20.5,"v":4},{"s":48,"h":21,"v":2},{"s":48,"h":22,"v":1},{"s":48,"h":22.5,"v":2},{"s":48,"h":23,"v":0},{"s":48,"h":23.75,"v":-1},
{"s":49,"h":0,"v":0},{"s":49,"h":0.5,"v":-1},{"s":49,"h":1,"v":-3},{"s":49,"h":1.5,"v":-2},{"s":49,"h":2,"v":-4},{"s":49,"h":2.5,"v":-5},{"s":49,"h":3,"v":-4},{"s":49,"h":3.5,"v":-6},{"s":49,"h":4,"v":-5},{"s":49,"h":4.5,"v":-7},{"s":49,"h":5,"v":-8},{"s":49,"h":5.5,"v":-7},{"s":49,"h":6,"v":-9},{"s":49,"h":6.5,"v":-10},{"s":49,"h":7,"v":-9},{"s":49,"h":7.5,"v":-11},{"s":49,"h":8,"v":-12},{"s":49,"h":8.5,"v":-11},{"s":49,"h":9,"v":-13},{"s":49,"h":9.5,"v":-12},{"s":49,"h":10,"v":-14},{"s":49,"h":10.5,"v":-13},{"s":49,"h":11,"v":-15},{"s":49,"h":11.5,"v":-14},{"s":49,"h":12,"v":-12},{"s":49,"h":12.5,"v":-13},{"s":49,"h":13,"v":-11},{"s":49,"h":13.5,"v":-12},{"s":49,"h":14,"v":-14},{"s":49,"h":14.5,"v":-13},{"s":49,"h":15,"v":-15},{"s":49,"h":15.5,"v":-16},{"s":49,"h":16,"v":-14},{"s":49,"h":16.5,"v":-15},{"s":49,"h":17,"v":-13},{"s":49,"h":17.5,"v":-14},{"s":49,"h":18,"v":-16},{"s":49,"h":18.5,"v":-15},{"s":49,"h":19,"v":-12},{"s":49,"h":19.5,"v":-13},{"s":49,"h":20,"v":-15},{"s":49,"h":20.5,"v":-14},{"s":49,"h":21,"v":-16},{"s":49,"h":21.5,"v":-15},{"s":49,"h":22,"v":-17},{"s":49,"h":22.5,"v":-16},{"s":49,"h":23,"v":-19},{"s":49,"h":23.75,"v":-20},
{"s":50,"h":0,"v":0},{"s":50,"h":0.5,"v":-1},{"s":50,"h":1,"v":-2},{"s":50,"h":1.5,"v":-3},{"s":50,"h":2,"v":-2},{"s":50,"h":2.5,"v":-4},{"s":50,"h":3,"v":-5},{"s":50,"h":3.5,"v":-4},{"s":50,"h":4,"v":-6},{"s":50,"h":4.5,"v":-8},{"s":50,"h":5,"v":-7},{"s":50,"h":5.5,"v":-9},{"s":50,"h":6,"v":-10},{"s":50,"h":6.5,"v":-9},{"s":50,"h":7,"v":-11},{"s":50,"h":7.5,"v":-10},{"s":50,"h":8,"v":-12},{"s":50,"h":8.5,"v":-11},{"s":50,"h":9,"v":-10},{"s":50,"h":9.5,"v":-12},{"s":50,"h":10,"v":-11},{"s":50,"h":10.5,"v":-13},{"s":50,"h":11,"v":-12},{"s":50,"h":11.5,"v":-10},{"s":50,"h":12,"v":-11},{"s":50,"h":12.5,"v":-9},{"s":50,"h":13,"v":-10},{"s":50,"h":13.5,"v":-8},{"s":50,"h":14,"v":-9},{"s":50,"h":14.5,"v":-7},{"s":50,"h":15,"v":-8},{"s":50,"h":15.5,"v":-6},{"s":50,"h":16,"v":-7},{"s":50,"h":16.5,"v":-5},{"s":50,"h":17,"v":-6},{"s":50,"h":17.5,"v":-4},{"s":50,"h":18,"v":-5},{"s":50,"h":18.5,"v":-3},{"s":50,"h":19,"v":-4},{"s":50,"h":20,"v":-6},{"s":50,"h":20.5,"v":-5},{"s":50,"h":21,"v":-7},{"s":50,"h":22,"v":-8},{"s":50,"h":22.5,"v":-6},{"s":50,"h":23,"v":-7},{"s":50,"h":23.75,"v":-9},
{"s":51,"h":0,"v":0},{"s":51,"h":0.5,"v":2},{"s":51,"h":1,"v":1},{"s":51,"h":1.5,"v":-1},{"s":51,"h":2,"v":0},{"s":51,"h":2.5,"v":-2},{"s":51,"h":3,"v":-3},{"s":51,"h":3.5,"v":-2},{"s":51,"h":4,"v":-4},{"s":51,"h":4.5,"v":-3},{"s":51,"h":5,"v":-5},{"s":51,"h":5.5,"v":-4},{"s":51,"h":6,"v":-6},{"s":51,"h":6.5,"v":-5},{"s":51,"h":7,"v":-7},{"s":51,"h":7.5,"v":-6},{"s":51,"h":8,"v":-8},{"s":51,"h":8.5,"v":-7},{"s":51,"h":9,"v":-9},{"s":51,"h":9.5,"v":-8},{"s":51,"h":10,"v":-10},{"s":51,"h":10.5,"v":-9},{"s":51,"h":11,"v":-7},{"s":51,"h":11.5,"v":-8},{"s":51,"h":12,"v":-6},{"s":51,"h":12.5,"v":-7},{"s":51,"h":13,"v":-5},{"s":51,"h":13.5,"v":-6},{"s":51,"h":14,"v":-8},{"s":51,"h":14.5,"v":-7},{"s":51,"h":15,"v":-9},{"s":51,"h":15.5,"v":-8},{"s":51,"h":16,"v":-10},{"s":51,"h":16.5,"v":-9},{"s":51,"h":17,"v":-11},{"s":51,"h":17.5,"v":-10},{"s":51,"h":18,"v":-12},{"s":51,"h":18.5,"v":-11},{"s":51,"h":19,"v":-10},{"s":51,"h":19.5,"v":-9},{"s":51,"h":20,"v":-11},{"s":51,"h":21,"v":-10},{"s":51,"h":21.5,"v":-8},{"s":51,"h":22,"v":-9},{"s":51,"h":23,"v":-7},{"s":51,"h":23.75,"v":-8},
{"s":52,"h":0,"v":0},{"s":52,"h":0.5,"v":1},{"s":52,"h":1,"v":3},{"s":52,"h":1.5,"v":2},{"s":52,"h":2,"v":4},{"s":52,"h":2.5,"v":3},{"s":52,"h":3,"v":5},{"s":52,"h":3.5,"v":6},{"s":52,"h":4,"v":5},{"s":52,"h":4.5,"v":7},{"s":52,"h":5,"v":6},{"s":52,"h":5.5,"v":8},{"s":52,"h":6,"v":7},{"s":52,"h":6.5,"v":9},{"s":52,"h":7,"v":8},{"s":52,"h":7.5,"v":10},{"s":52,"h":8,"v":9},{"s":52,"h":8.5,"v":8},{"s":52,"h":9,"v":10},{"s":52,"h":9.5,"v":9},{"s":52,"h":10,"v":8},{"s":52,"h":10.5,"v":7},{"s":52,"h":11,"v":9},{"s":52,"h":11.5,"v":8},{"s":52,"h":12,"v":10},{"s":52,"h":12.5,"v":12},{"s":52,"h":13,"v":11},{"s":52,"h":13.5,"v":13},{"s":52,"h":14,"v":12},{"s":52,"h":14.5,"v":14},{"s":52,"h":15,"v":13},{"s":52,"h":15.5,"v":15},{"s":52,"h":16,"v":14},{"s":52,"h":16.5,"v":16},{"s":52,"h":17,"v":15},{"s":52,"h":17.5,"v":14},{"s":52,"h":18,"v":16},{"s":52,"h":18.5,"v":15},{"s":52,"h":19,"v":17},{"s":52,"h":19.5,"v":16},{"s":52,"h":20,"v":18},{"s":52,"h":20.5,"v":17},{"s":52,"h":21,"v":16},{"s":52,"h":22,"v":15},{"s":52,"h":22.5,"v":16},{"s":52,"h":23,"v":14},{"s":52,"h":23.75,"v":13},
{"s":53,"h":0,"v":0},{"s":53,"h":0.5,"v":-1},{"s":53,"h":1,"v":0},{"s":53,"h":1.5,"v":-2},{"s":53,"h":2,"v":-1},{"s":53,"h":2.5,"v":-3},{"s":53,"h":3,"v":-2},{"s":53,"h":3.5,"v":-4},{"s":53,"h":4,"v":-3},{"s":53,"h":4.5,"v":-1},{"s":53,"h":5,"v":-2},{"s":53,"h":5.5,"v":0},{"s":53,"h":6,"v":-1},{"s":53,"h":6.5,"v":-3},{"s":53,"h":7,"v":-2},{"s":53,"h":7.5,"v":-4},{"s":53,"h":8,"v":-3},{"s":53,"h":8.5,"v":-5},{"s":53,"h":9,"v":-4},{"s":53,"h":9.5,"v":-6},{"s":53,"h":10,"v":-5},{"s":53,"h":10.5,"v":-7},{"s":53,"h":11,"v":-6},{"s":53,"h":11.5,"v":-8},{"s":53,"h":12,"v":-7},{"s":53,"h":12.5,"v":-9},{"s":53,"h":13,"v":-8},{"s":53,"h":13.5,"v":-10},{"s":53,"h":14,"v":-9},{"s":53,"h":14.5,"v":-11},{"s":53,"h":15,"v":-10},{"s":53,"h":15.5,"v":-12},{"s":53,"h":16,"v":-11},{"s":53,"h":16.5,"v":-13},{"s":53,"h":17,"v":-12},{"s":53,"h":17.5,"v":-14},{"s":53,"h":18,"v":-13},{"s":53,"h":18.5,"v":-15},{"s":53,"h":19,"v":-14},{"s":53,"h":19.5,"v":-16},{"s":53,"h":20,"v":-15},{"s":53,"h":20.5,"v":-17},{"s":53,"h":21,"v":-16},{"s":53,"h":21.5,"v":-18},{"s":53,"h":22,"v":-17},{"s":53,"h":22.5,"v":-19},{"s":53,"h":23,"v":-18},{"s":53,"h":23.75,"v":-19},
{"s":54,"h":0,"v":0},{"s":54,"h":0.5,"v":1},{"s":54,"h":1,"v":-1},{"s":54,"h":1.5,"v":0},{"s":54,"h":2,"v":2},{"s":54,"h":2.5,"v":1},{"s":54,"h":3,"v":3},{"s":54,"h":3.5,"v":2},{"s":54,"h":4,"v":4},{"s":54,"h":4.5,"v":3},{"s":54,"h":5,"v":5},{"s":54,"h":5.5,"v":7},{"s":54,"h":6,"v":6},{"s":54,"h":6.5,"v":8},{"s":54,"h":7,"v":7},{"s":54,"h":7.5,"v":9},{"s":54,"h":8,"v":8},{"s":54,"h":8.5,"v":6},{"s":54,"h":9,"v":7},{"s":54,"h":9.5,"v":5},{"s":54,"h":10,"v":6},{"s":54,"h":10.5,"v":4},{"s":54,"h":11,"v":5},{"s":54,"h":11.5,"v":3},{"s":54,"h":12,"v":4},{"s":54,"h":12.5,"v":2},{"s":54,"h":13,"v":3},{"s":54,"h":13.5,"v":1},{"s":54,"h":14,"v":2},{"s":54,"h":14.5,"v":0},{"s":54,"h":15,"v":1},{"s":54,"h":15.5,"v":-1},{"s":54,"h":16,"v":0},{"s":54,"h":16.5,"v":5},{"s":54,"h":17,"v":4},{"s":54,"h":17.5,"v":6},{"s":54,"h":18,"v":5},{"s":54,"h":18.5,"v":3},{"s":54,"h":19,"v":4},{"s":54,"h":19.5,"v":2},{"s":54,"h":20,"v":3},{"s":54,"h":20.5,"v":1},{"s":54,"h":21,"v":2},{"s":54,"h":21.5,"v":0},{"s":54,"h":22,"v":1},{"s":54,"h":22.5,"v":-1},{"s":54,"h":23,"v":0},{"s":54,"h":23.75,"v":-2},
{"s":55,"h":0,"v":0},{"s":55,"h":1,"v":-1},{"s":55,"h":1.5,"v":0},{"s":55,"h":2,"v":-2},{"s":55,"h":2.5,"v":-1},{"s":55,"h":3,"v":-3},{"s":55,"h":3.5,"v":-2},{"s":55,"h":4,"v":0},{"s":55,"h":4.5,"v":-1},{"s":55,"h":5,"v":1},{"s":55,"h":5.5,"v":0},{"s":55,"h":6,"v":2},{"s":55,"h":6.5,"v":1},{"s":55,"h":7,"v":-1},{"s":55,"h":7.5,"v":0},{"s":55,"h":8,"v":-2},{"s":55,"h":8.5,"v":-1},{"s":55,"h":9,"v":-3},{"s":55,"h":9.5,"v":-2},{"s":55,"h":10,"v":-4},{"s":55,"h":10.5,"v":-3},{"s":55,"h":11,"v":-5},{"s":55,"h":11.5,"v":-4},{"s":55,"h":12,"v":-2},{"s":55,"h":12.5,"v":-3},{"s":55,"h":13,"v":-1},{"s":55,"h":13.5,"v":-2},{"s":55,"h":14,"v":-4},{"s":55,"h":14.5,"v":-3},{"s":55,"h":15,"v":-5},{"s":55,"h":15.5,"v":-4},{"s":55,"h":16,"v":-6},{"s":55,"h":16.5,"v":-5},{"s":55,"h":17,"v":-7},{"s":55,"h":17.5,"v":-6},{"s":55,"h":18,"v":-4},{"s":55,"h":18.5,"v":-5},{"s":55,"h":19,"v":-3},{"s":55,"h":19.5,"v":-4},{"s":55,"h":20,"v":-6},{"s":55,"h":20.5,"v":-5},{"s":55,"h":21,"v":-7},{"s":55,"h":22,"v":-6},{"s":55,"h":23,"v":-4},{"s":55,"h":23.75,"v":-5},
{"s":56,"h":0,"v":0},{"s":56,"h":0.5,"v":-2},{"s":56,"h":1,"v":-1},{"s":56,"h":1.5,"v":-3},{"s":56,"h":2,"v":-2},{"s":56,"h":2.5,"v":-4},{"s":56,"h":3,"v":-3},{"s":56,"h":3.5,"v":-5},{"s":56,"h":4,"v":-4},{"s":56,"h":4.5,"v":-6},{"s":56,"h":5,"v":-5},{"s":56,"h":5.5,"v":-7},{"s":56,"h":6,"v":-6},{"s":56,"h":6.5,"v":-4},{"s":56,"h":7,"v":-5},{"s":56,"h":7.5,"v":-3},{"s":56,"h":8,"v":-4},{"s":56,"h":8.5,"v":-2},{"s":56,"h":9,"v":-3},{"s":56,"h":9.5,"v":-5},{"s":56,"h":10,"v":-4},{"s":56,"h":10.5,"v":-6},{"s":56,"h":11,"v":-5},{"s":56,"h":11.5,"v":-7},{"s":56,"h":12,"v":-6},{"s":56,"h":12.5,"v":-8},{"s":56,"h":13,"v":-7},{"s":56,"h":13.5,"v":-9},{"s":56,"h":14,"v":-8},{"s":56,"h":14.5,"v":-10},{"s":56,"h":15,"v":-9},{"s":56,"h":15.5,"v":-11},{"s":56,"h":16,"v":-10},{"s":56,"h":16.5,"v":-12},{"s":56,"h":17,"v":-11},{"s":56,"h":17.5,"v":-13},{"s":56,"h":18,"v":-12},{"s":56,"h":18.5,"v":-14},{"s":56,"h":19,"v":-13},{"s":56,"h":19.5,"v":-15},{"s":56,"h":20,"v":-14},{"s":56,"h":20.5,"v":-16},{"s":56,"h":21,"v":-15},{"s":56,"h":21.5,"v":-14},{"s":56,"h":22,"v":-16},{"s":56,"h":22.5,"v":-15},{"s":56,"h":23,"v":-17},{"s":56,"h":23.75,"v":-16},
{"s":57,"h":0,"v":0},{"s":57,"h":0.5,"v":-1},{"s":57,"h":1,"v":1},{"s":57,"h":1.5,"v":0},{"s":57,"h":2,"v":-1},{"s":57,"h":2.5,"v":1},{"s":57,"h":3,"v":0},{"s":57,"h":3.5,"v":-2},{"s":57,"h":4,"v":-1},{"s":57,"h":4.5,"v":-3},{"s":57,"h":5,"v":-2},{"s":57,"h":5.5,"v":-4},{"s":57,"h":6,"v":-3},{"s":57,"h":6.5,"v":-5},{"s":57,"h":7,"v":-4},{"s":57,"h":7.5,"v":-6},{"s":57,"h":8,"v":-5},{"s":57,"h":8.5,"v":-7},{"s":57,"h":9,"v":-6},{"s":57,"h":9.5,"v":-4},{"s":57,"h":10,"v":-5},{"s":57,"h":10.5,"v":-3},{"s":57,"h":11,"v":-4},{"s":57,"h":11.5,"v":-6},{"s":57,"h":12,"v":-5},{"s":57,"h":12.5,"v":-7},{"s":57,"h":13,"v":-6},{"s":57,"h":13.5,"v":-8},{"s":57,"h":14,"v":-7},{"s":57,"h":14.5,"v":-9},{"s":57,"h":15,"v":-8},{"s":57,"h":15.5,"v":-10},{"s":57,"h":16,"v":-9},{"s":57,"h":16.5,"v":-7},{"s":57,"h":17,"v":-8},{"s":57,"h":17.5,"v":-6},{"s":57,"h":18,"v":-7},{"s":57,"h":18.5,"v":-5},{"s":57,"h":19,"v":-6},{"s":57,"h":19.5,"v":-8},{"s":57,"h":20,"v":-7},{"s":57,"h":20.5,"v":-9},{"s":57,"h":21,"v":-8},{"s":57,"h":21.5,"v":-6},{"s":57,"h":22,"v":-7},{"s":57,"h":22.5,"v":-5},{"s":57,"h":23,"v":-6},{"s":57,"h":23.75,"v":-4},
{"s":58,"h":0,"v":0},{"s":58,"h":0.5,"v":1},{"s":58,"h":1,"v":0},{"s":58,"h":1.5,"v":2},{"s":58,"h":2,"v":1},{"s":58,"h":2.5,"v":0},{"s":58,"h":3,"v":1},{"s":58,"h":3.5,"v":-1},{"s":58,"h":4,"v":0},{"s":58,"h":4.5,"v":-2},{"s":58,"h":5,"v":-1},{"s":58,"h":5.5,"v":-3},{"s":58,"h":6,"v":-2},{"s":58,"h":6.5,"v":-4},{"s":58,"h":7,"v":-3},{"s":58,"h":7.5,"v":-5},{"s":58,"h":8,"v":-4},{"s":58,"h":8.5,"v":-6},{"s":58,"h":9,"v":-5},{"s":58,"h":9.5,"v":-3},{"s":58,"h":10,"v":-4},{"s":58,"h":10.5,"v":-2},{"s":58,"h":11,"v":-3},{"s":58,"h":11.5,"v":-1},{"s":58,"h":12,"v":-2},{"s":58,"h":12.5,"v":0},{"s":58,"h":13,"v":-1},{"s":58,"h":13.5,"v":1},{"s":58,"h":14,"v":0},{"s":58,"h":14.5,"v":2},{"s":58,"h":15,"v":1},{"s":58,"h":15.5,"v":3},{"s":58,"h":16,"v":2},{"s":58,"h":16.5,"v":4},{"s":58,"h":17,"v":3},{"s":58,"h":17.5,"v":5},{"s":58,"h":18,"v":7},{"s":58,"h":18.5,"v":6},{"s":58,"h":19,"v":8},{"s":58,"h":19.5,"v":7},{"s":58,"h":20,"v":9},{"s":58,"h":20.5,"v":8},{"s":58,"h":21,"v":10},{"s":58,"h":21.5,"v":9},{"s":58,"h":22,"v":8},{"s":58,"h":22.5,"v":10},{"s":58,"h":23,"v":9},{"s":58,"h":23.75,"v":8},
{"s":59,"h":0,"v":2},{"s":59,"h":0.5,"v":3},{"s":59,"h":1,"v":2},{"s":59,"h":1.5,"v":4},{"s":59,"h":2,"v":3},{"s":59,"h":2.5,"v":5},{"s":59,"h":3,"v":4},{"s":59,"h":3.5,"v":3},{"s":59,"h":4,"v":5},{"s":59,"h":4.5,"v":4},{"s":59,"h":5,"v":6},{"s":59,"h":5.5,"v":5},{"s":59,"h":6,"v":7},{"s":59,"h":6.5,"v":6},{"s":59,"h":7,"v":5},{"s":59,"h":7.5,"v":7},{"s":59,"h":8,"v":6},{"s":59,"h":8.5,"v":8},{"s":59,"h":9,"v":7},{"s":59,"h":9.5,"v":6},{"s":59,"h":10,"v":8},{"s":59,"h":10.5,"v":7},{"s":59,"h":11,"v":5},{"s":59,"h":11.5,"v":6},{"s":59,"h":12,"v":4},{"s":59,"h":12.5,"v":5},{"s":59,"h":13,"v":3},{"s":59,"h":13.5,"v":4},{"s":59,"h":14,"v":6},{"s":59,"h":14.5,"v":5},{"s":59,"h":15,"v":7},{"s":59,"h":15.5,"v":6},{"s":59,"h":16,"v":8},{"s":59,"h":16.5,"v":7},{"s":59,"h":17,"v":6},{"s":59,"h":17.5,"v":8},{"s":59,"h":18,"v":7},{"s":59,"h":18.5,"v":9},{"s":59,"h":19,"v":8},{"s":59,"h":19.5,"v":10},{"s":59,"h":20,"v":9},{"s":59,"h":20.5,"v":11},{"s":59,"h":21,"v":10},{"s":59,"h":21.5,"v":12},{"s":59,"h":22,"v":11},{"s":59,"h":22.5,"v":10},{"s":59,"h":23,"v":12},{"s":59,"h":23.75,"v":11},
{"s":60,"h":0,"v":0},{"s":60,"h":0.5,"v":1},{"s":60,"h":1,"v":-1},{"s":60,"h":1.5,"v":0},{"s":60,"h":2,"v":-2},{"s":60,"h":2.5,"v":-1},{"s":60,"h":3,"v":-3},{"s":60,"h":3.5,"v":-2},{"s":60,"h":4,"v":-4},{"s":60,"h":4.5,"v":-3},{"s":60,"h":5,"v":-5},{"s":60,"h":5.5,"v":-4},{"s":60,"h":6,"v":-6},{"s":60,"h":6.5,"v":-5},{"s":60,"h":7,"v":-7},{"s":60,"h":7.5,"v":-6},{"s":60,"h":8,"v":-8},{"s":60,"h":8.5,"v":-7},{"s":60,"h":9,"v":-6},{"s":60,"h":9.5,"v":-8},{"s":60,"h":10,"v":-7},{"s":60,"h":10.5,"v":-9},{"s":60,"h":11,"v":-8},{"s":60,"h":11.5,"v":-6},{"s":60,"h":12,"v":-7},{"s":60,"h":12.5,"v":-5},{"s":60,"h":13,"v":-6},{"s":60,"h":13.5,"v":-4},{"s":60,"h":14,"v":-5},{"s":60,"h":14.5,"v":-3},{"s":60,"h":15,"v":-4},{"s":60,"h":15.5,"v":-2},{"s":60,"h":16,"v":-3},{"s":60,"h":16.5,"v":-1},{"s":60,"h":17,"v":-2},{"s":60,"h":17.5,"v":0},{"s":60,"h":18,"v":-1},{"s":60,"h":18.5,"v":1},{"s":60,"h":19,"v":0},{"s":60,"h":19.5,"v":-2},{"s":60,"h":20,"v":-1},{"s":60,"h":20.5,"v":-3},{"s":60,"h":21,"v":-2},{"s":60,"h":21.5,"v":-4},{"s":60,"h":22,"v":-3},{"s":60,"h":22.5,"v":-5},{"s":60,"h":23,"v":-4},{"s":60,"h":23.75,"v":-6}
]},
"mark":{"type":"line","strokeWidth":1,"interpolate":"linear"},
"encoding":{
"x":{"field":"h","type":"quantitative","scale":{"domain":[0,23.75],"nice":false,"zero":false},"axis":{"orient":"bottom","values":[0,1,2,3,4,5,6,7,8,9,10,11,12,13,14,15,16,17,18,19,20,21,22,23],"format":"d","title":"Hour of Day","labelPadding":13,"titlePadding":3}},
"y":{"field":"v","type":"quantitative","scale":{"domain":[-30,40],"nice":false,"zero":false},"axis":{"orient":"left","values":[-30,-20,-10,0,10,20,30,40],"format":"d","title":"Cumulative (Z*Z)-1","labelPadding":14,"titlePadding":5}},
"color":{"field":"s","type":"nominal","legend":null,"scale":{"domain":[1,2,3,4,5,6,7,8,9,10,11,12,13,14,15,16,17,18,19,20,21,22,23,24,25,26,27,28,29,30,31,32,33,34,35,36,37,38,39,40,41,42,43,44,45,46,47,48,49,50,51,52,53,54,55,56,57,58,59,60],"range":["#0000ff","#0000ff","#00ffff","#b00000","#5050ff","#0000ff","#ff0000","#ff0000","#b00000","#ff0000","#ff0000","#b00000","#ff40ff","#ff40ff","#ff40ff","#ff40ff","#ff40ff","#00ffff","#00ffff","#00ffff","#00ffff","#ffff00","#ffff00","#ffff00","#ffff00","#ffff00","#00a000","#00a000","#00a000","#00a000","#000000","#000000","#0000ff","#0000ff","#5050ff","#0000ff","#0000ff","#5050ff","#0000ff","#0000ff","#ff0000","#b00000","#ff0000","#00a000","#00ffff","#ff0000","#b00000","#00a000","#0000ff","#ffff00","#ff40ff","#00ffff","#5050ff","#ff0000","#b00000","#0000ff","#00a000","#ffff00","#ff40ff","#000000"]}}
}},
{"data":{"values":[{"h":0,"v":0}]},
"mark":{"type":"point","opacity":0},
"encoding":{
"x":{"field":"h","type":"quantitative","axis":{"orient":"top","values":[0,1,2,3,4,5,6,7,8,9,10,11,12,13,14,15,16,17,18,19,20,21,22,23],"labels":false,"title":null}},
"y":{"field":"v","type":"quantitative","axis":{"orient":"right","values":[-30,-20,-10,0,10,20,30,40],"labels":false,"title":null}}
}}
]
}
